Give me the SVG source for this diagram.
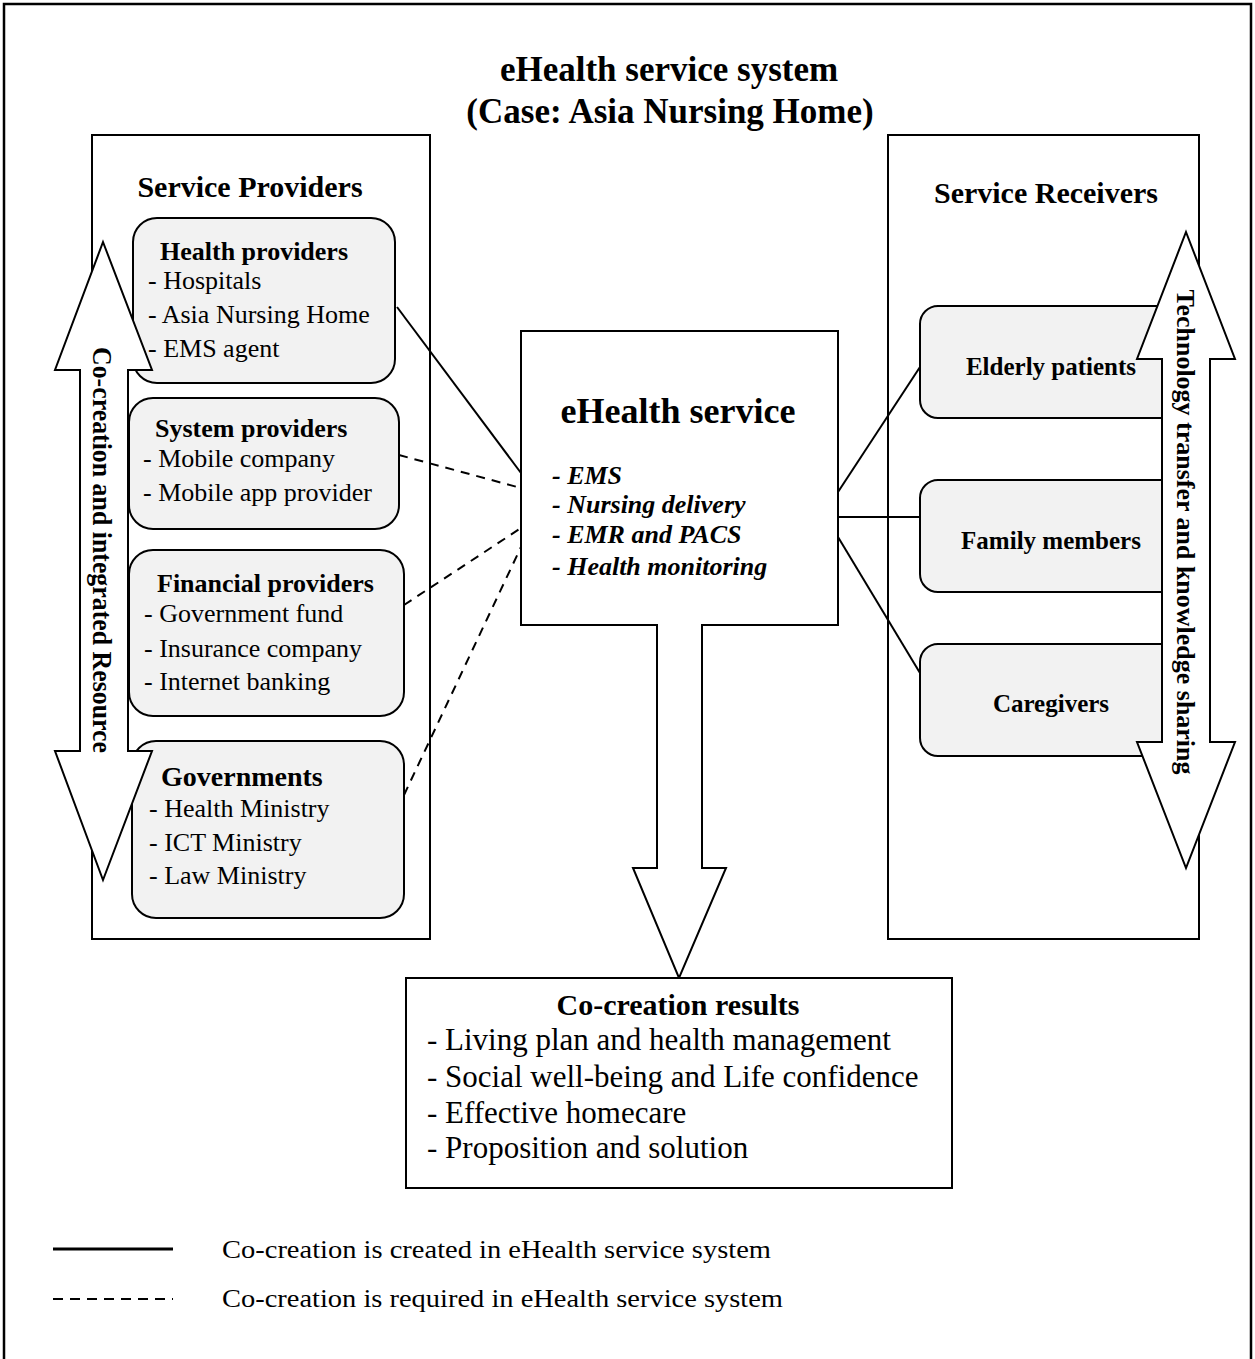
<svg xmlns="http://www.w3.org/2000/svg" width="1255" height="1359" viewBox="0 0 1255 1359">
<style>
text{font-family:"Liberation Serif","Times New Roman",serif;fill:#000}
.b{font-weight:bold}
.bi{font-weight:bold;font-style:italic}
.frame{fill:#fff;stroke:#000;stroke-width:2}
.rbox{fill:#f2f2f2;stroke:#000;stroke-width:2}
.arrow{fill:#fff;stroke:#000;stroke-width:2;stroke-linejoin:miter}
.solid{stroke:#000;stroke-width:2;fill:none}
.dash{stroke:#000;stroke-width:2;fill:none;stroke-dasharray:9 7}
.h{font-size:26px}
.it{font-size:26px}
</style>
<rect x="0" y="0" width="1255" height="1359" fill="#fff"/>
<rect x="4" y="4" width="1247" height="1380" fill="none" stroke="#000" stroke-width="2.5"/>

<g id="title">
<text class="b" x="669" y="81" font-size="35" text-anchor="middle">eHealth service system</text>
<text class="b" x="670" y="123" font-size="35" text-anchor="middle">(Case: Asia Nursing Home)</text>
</g>

<g id="service-providers">
<rect class="frame" x="92" y="135" width="338" height="804"/>
<text class="b" x="250" y="197" font-size="30" text-anchor="middle">Service Providers</text>
</g>
<g id="service-receivers">
<rect class="frame" x="888" y="135" width="311" height="804"/>
<text class="b" x="1046" y="203" font-size="30" text-anchor="middle">Service Receivers</text>
</g>

<g id="connectors">
<line class="solid" x1="397" y1="307" x2="521" y2="473"/>
<line class="dash" x1="399" y1="455" x2="521" y2="488"/>
<line class="dash" x1="404" y1="605" x2="521" y2="528"/>
<line class="dash" x1="404" y1="795" x2="521" y2="547"/>
<line class="solid" x1="838" y1="492" x2="920" y2="367"/>
<line class="solid" x1="838" y1="517" x2="920" y2="517" stroke-width="3"/>
<line class="solid" x1="838" y1="537" x2="920" y2="673"/>
</g>

<g id="health-providers">
<rect class="rbox" x="133" y="218" width="262" height="165" rx="24"/>
<text class="b h" x="160" y="260">Health providers</text>
<text class="it" x="148" y="289">- Hospitals</text>
<text class="it" x="148" y="323">- Asia Nursing Home</text>
<text class="it" x="148" y="357">- EMS agent</text>
</g>
<g id="system-providers">
<rect class="rbox" x="129" y="398" width="270" height="131" rx="24"/>
<text class="b h" x="155" y="437">System providers</text>
<text class="it" x="143" y="467">- Mobile company</text>
<text class="it" x="143" y="501">- Mobile app provider</text>
</g>
<g id="financial-providers">
<rect class="rbox" x="129" y="550" width="275" height="166" rx="24"/>
<text class="b h" x="157" y="592">Financial providers</text>
<text class="it" x="144" y="622">- Government fund</text>
<text class="it" x="144" y="657">- Insurance company</text>
<text class="it" x="144" y="690">- Internet banking</text>
</g>
<g id="governments">
<rect class="rbox" x="132" y="741" width="272" height="177" rx="24"/>
<text class="b" x="161" y="786" font-size="28">Governments</text>
<text class="it" x="149" y="817">- Health Ministry</text>
<text class="it" x="149" y="851">- ICT Ministry</text>
<text class="it" x="149" y="884">- Law Ministry</text>
</g>

<g id="elderly-patients">
<rect class="rbox" x="920" y="306" width="262" height="112" rx="18"/>
<text class="b" x="1051" y="375" font-size="25" text-anchor="middle">Elderly patients</text>
</g>
<g id="family-members">
<rect class="rbox" x="920" y="480" width="262" height="112" rx="18"/>
<text class="b" x="1051" y="549" font-size="25" text-anchor="middle">Family members</text>
</g>
<g id="caregivers">
<rect class="rbox" x="920" y="644" width="262" height="112" rx="18"/>
<text class="b" x="1051" y="712" font-size="25" text-anchor="middle">Caregivers</text>
</g>

<g id="co-creation-arrow">
<path class="arrow" d="M103,242 L152,370 H128 V751 H152 L103,880 L55,751 H80 V370 H55 Z"/>
<text class="b" font-size="27" text-anchor="middle" transform="translate(93,550) rotate(90)" textLength="406" lengthAdjust="spacingAndGlyphs">Co-creation and integrated Resource</text>
</g>
<g id="technology-arrow">
<path class="arrow" d="M1186,232 L1235,359 H1210 V742 H1235 L1186,868 L1137,742 H1162 V359 H1137 Z"/>
<text class="b" font-size="26" text-anchor="middle" transform="translate(1177,532) rotate(90)" textLength="485" lengthAdjust="spacingAndGlyphs">Technology transfer and knowledge sharing</text>
</g>

<g id="ehealth-service">
<path class="arrow" d="M521,331 H838 V625 H702 V868 H726 L679,978 L633,868 H657 V625 H521 Z"/>
<text class="b" x="678" y="423" font-size="36" text-anchor="middle">eHealth service</text>
<text class="bi" x="552" y="484" font-size="26">- EMS</text>
<text class="bi" x="552" y="513" font-size="26">- Nursing delivery</text>
<text class="bi" x="552" y="543" font-size="26">- EMR and PACS</text>
<text class="bi" x="552" y="575" font-size="26">- Health monitoring</text>
</g>

<g id="co-creation-results">
<rect class="frame" x="406" y="978" width="546" height="210"/>
<text class="b" x="678" y="1015" font-size="30" text-anchor="middle">Co-creation results</text>
<text x="427" y="1050" font-size="31">- Living plan and health management</text>
<text x="427" y="1087" font-size="31">- Social well-being and Life confidence</text>
<text x="427" y="1123" font-size="31">- Effective homecare</text>
<text x="427" y="1158" font-size="31">- Proposition and solution</text>
</g>

<g id="legend">
<line x1="53" y1="1249" x2="173" y2="1249" stroke="#000" stroke-width="3"/>
<line x1="53" y1="1299" x2="173" y2="1299" stroke="#000" stroke-width="2" stroke-dasharray="10 7"/>
<text x="222" y="1258" font-size="26" textLength="549" lengthAdjust="spacingAndGlyphs">Co-creation is created in eHealth service system</text>
<text x="222" y="1307" font-size="26" textLength="561" lengthAdjust="spacingAndGlyphs">Co-creation is required in eHealth service system</text>
</g>
</svg>
